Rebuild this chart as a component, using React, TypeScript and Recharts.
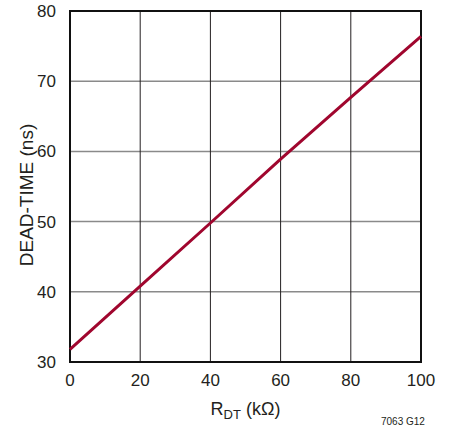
import { LineChart, Line, XAxis, YAxis, CartesianGrid, ReferenceArea } from 'recharts';

// R_DT (kOhm) vs dead-time (ns)
const rdt = [0, 20, 40, 60, 80, 100];
const deadTime = [31.8, 40.8, 49.8, 58.9, 67.7, 76.4];
const xTicks = [0, 20, 40, 60, 80, 100];
const yTicks = [30, 40, 50, 60, 70, 80];

const data = rdt.map((r, i) => ({ r, t: deadTime[i] }));

const font = '"Liberation Sans", Arial, sans-serif';
const tickStyle = { fontSize: 17, fill: '#231f20', fontFamily: font };

const XLabel = (props: any) => {
  const vb = props.viewBox || {};
  const cx = vb.x + vb.width / 2;
  return (
    <text x={cx} y={415} textAnchor="middle" fontSize={18} fill="#231f20" fontFamily={font}>
      R<tspan fontSize={13} dy={4}>DT</tspan>
      <tspan dy={-4}> (kΩ)</tspan>
    </text>
  );
};

const YLabel = () => (
  <text
    x={26}
    y={195}
    transform="rotate(-90 26 195)"
    textAnchor="middle"
    dominantBaseline="central"
    fontSize={19}
    fill="#231f20"
    fontFamily={font}
  >
    DEAD-TIME (ns)
  </text>
);

export default function App() {
  return (
    <div style={{ position: 'absolute', left: 0, top: 0, width: 451, height: 433, background: '#fff' }}>
      <LineChart width={451} height={433} data={data} margin={{ top: 11, right: 30, bottom: 41, left: 0 }}>
        <CartesianGrid vertical={false} stroke="#8a8a8a" strokeWidth={1.5} />
        <CartesianGrid horizontal={false} stroke="#231f20" strokeWidth={1} />
        <XAxis
          dataKey="r"
          type="number"
          domain={[0, 100]}
          ticks={xTicks}
          height={30}
          tickLine={false}
          axisLine={false}
          tick={tickStyle}
          tickMargin={6}
          interval={0}
          label={<XLabel />}
        />
        <YAxis
          type="number"
          domain={[30, 80]}
          ticks={yTicks}
          width={70}
          tickLine={false}
          axisLine={false}
          tick={tickStyle}
          tickMargin={8}
          interval={0}
          label={<YLabel />}
        />
        <ReferenceArea x1={0} x2={100} y1={30} y2={80} fill="none" stroke="#111" strokeWidth={2} ifOverflow="visible" />
        <Line
          type="linear"
          dataKey="t"
          stroke="#a0062e"
          strokeWidth={3}
          dot={false}
          isAnimationActive={false}
        />
      </LineChart>
      <div
        style={{
          position: 'absolute',
          left: 381,
          top: 416,
          fontSize: 10,
          fontFamily: font,
          color: '#231f20',
          lineHeight: '12px',
        }}
      >
        7063 G12
      </div>
    </div>
  );
}
